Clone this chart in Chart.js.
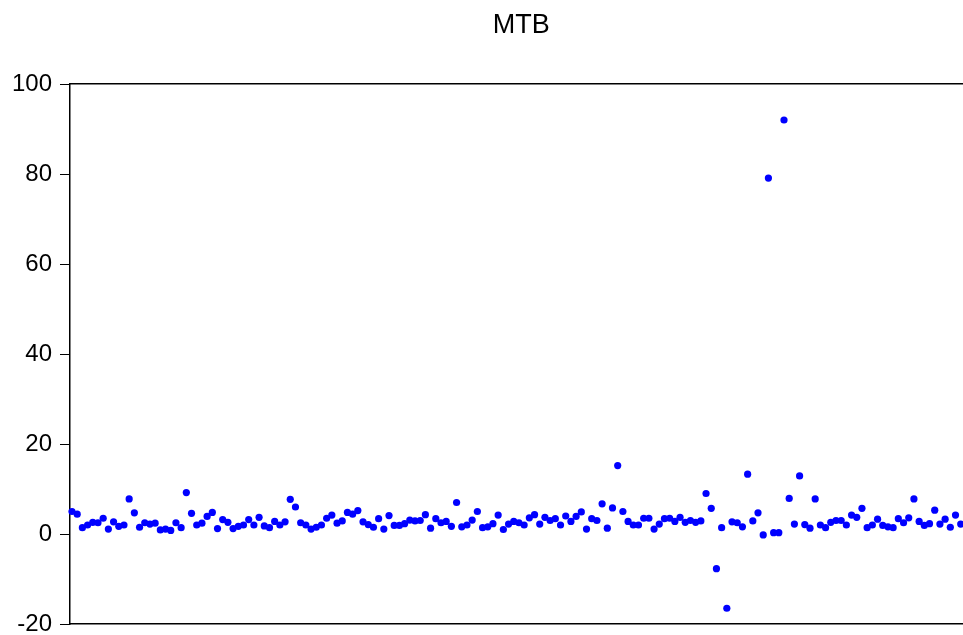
<!DOCTYPE html>
<html>
<head>
<meta charset="utf-8">
<script src="https://cdn.jsdelivr.net/npm/chart.js@4/dist/chart.umd.min.js"></script>
<style>
  html, body { margin: 0; padding: 0; background: #fff; overflow: hidden; }
  #view { width: 963px; height: 635px; overflow: hidden; }
  #wrap { width: 976px; height: 635px; }
</style>
</head>
<body>
<div id="view"><div id="wrap"><canvas id="mtbChart"></canvas></div></div>
<script>
const mtb = [5.0, 4.4, 1.4, 2.0, 2.6, 2.5, 3.5, 1.1, 2.7, 1.7,
  2.0, 7.8, 4.7, 1.5, 2.5, 2.2, 2.4, 0.9, 1.1, 0.8,
  2.5, 1.4, 9.2, 4.6, 2.0, 2.4, 3.9, 4.8, 1.2, 3.2,
  2.6, 1.2, 1.7, 2.0, 3.2, 2.0, 3.7, 1.8, 1.4, 2.8,
  2.0, 2.7, 7.7, 6.0, 2.5, 2.0, 1.1, 1.5, 2.0, 3.5,
  4.2, 2.4, 2.9, 4.8, 4.4, 5.2, 2.7, 2.1, 1.5, 3.4,
  1.1, 4.1, 1.9, 1.9, 2.3, 3.1, 2.9, 3.0, 4.3, 1.3,
  3.4, 2.5, 2.8, 1.7, 7.0, 1.6, 2.0, 3.1, 5.0, 1.4,
  1.6, 2.3, 4.2, 1.0, 2.2, 2.8, 2.5, 2.0, 3.6, 4.3,
  2.2, 3.7, 3.0, 3.4, 2.0, 4.0, 2.8, 3.9, 4.9, 1.1,
  3.4, 3.0, 6.7, 1.3, 5.8, 15.2, 5.0, 2.8, 2.0, 2.0,
  3.5, 3.5, 1.1, 2.2, 3.4, 3.5, 2.8, 3.7, 2.6, 3.0,
  2.6, 2.9, 9.0, 5.7, -7.7, 1.4, -16.5, 2.7, 2.5, 1.6,
  13.3, 2.9, 4.7, -0.2, 79.1, 0.3, 0.3, 92.0, 7.9, 2.2,
  12.9, 2.1, 1.3, 7.8, 2.0, 1.4, 2.6, 3.0, 3.0, 2.0,
  4.2, 3.7, 5.7, 1.4, 2.0, 3.3, 1.9, 1.6, 1.4, 3.4,
  2.5, 3.6, 7.8, 2.8, 1.9, 2.3, 5.3, 2.2, 3.3, 1.5,
  4.2, 2.2];
const obs = mtb.map((v, i) => i + 1);
const yTicks = [-20, 0, 20, 40, 60, 80, 100];

const font = "'Liberation Sans', Arial, sans-serif";
const xMin = 0.617, xMax = 174.25;

const ctx = document.getElementById("mtbChart").getContext("2d");
new Chart(ctx, {
  type: "scatter",
  data: {
    datasets: [{
      label: "MTB",
      data: obs.map((o, i) => ({ x: o, y: mtb[i] })),
      backgroundColor: "#0000ff",
      borderColor: "#0000ff",
      pointRadius: 3.6,
      pointHoverRadius: 3.6,
      borderWidth: 0,
      clip: false
    }]
  },
  options: {
    responsive: true,
    maintainAspectRatio: false,
    animation: false,
    layout: { padding: { left: 0, right: 0, top: 0, bottom: 11 } },
    plugins: {
      legend: { display: false },
      tooltip: { enabled: false },
      title: {
        display: true,
        text: "MTB",
        fullSize: false,
        color: "#000",
        font: { family: font, size: 27, weight: "normal" },
        padding: { top: 9, bottom: 42.6 }
      }
    },
    scales: {
      x: {
        type: "linear",
        min: xMin,
        max: xMax,
        ticks: { display: false },
        grid: { display: false, drawTicks: false },
        border: { display: true, color: "#000", width: 1.5 }
      },
      xTop: {
        type: "linear",
        position: "top",
        min: xMin,
        max: xMax,
        ticks: { display: false },
        grid: { display: false, drawTicks: false },
        border: { display: true, color: "#000", width: 1.5 }
      },
      y: {
        min: -20,
        max: 100,
        afterBuildTicks: (scale) => { scale.ticks = yTicks.map(v => ({ value: v })); },
        afterFit: (scale) => {
          scale.width = 70;
          scale.paddingTop = 0;
          scale.paddingBottom = 0;
        },
        ticks: {
          color: "#000",
          padding: 8,
          font: { family: font, size: 24 }
        },
        grid: {
          drawOnChartArea: false,
          drawTicks: true,
          tickLength: 10,
          color: "#000",
          lineWidth: 1
        },
        border: { display: true, color: "#000", width: 1.5 }
      }
    }
  }
});
</script>
</body>
</html>
